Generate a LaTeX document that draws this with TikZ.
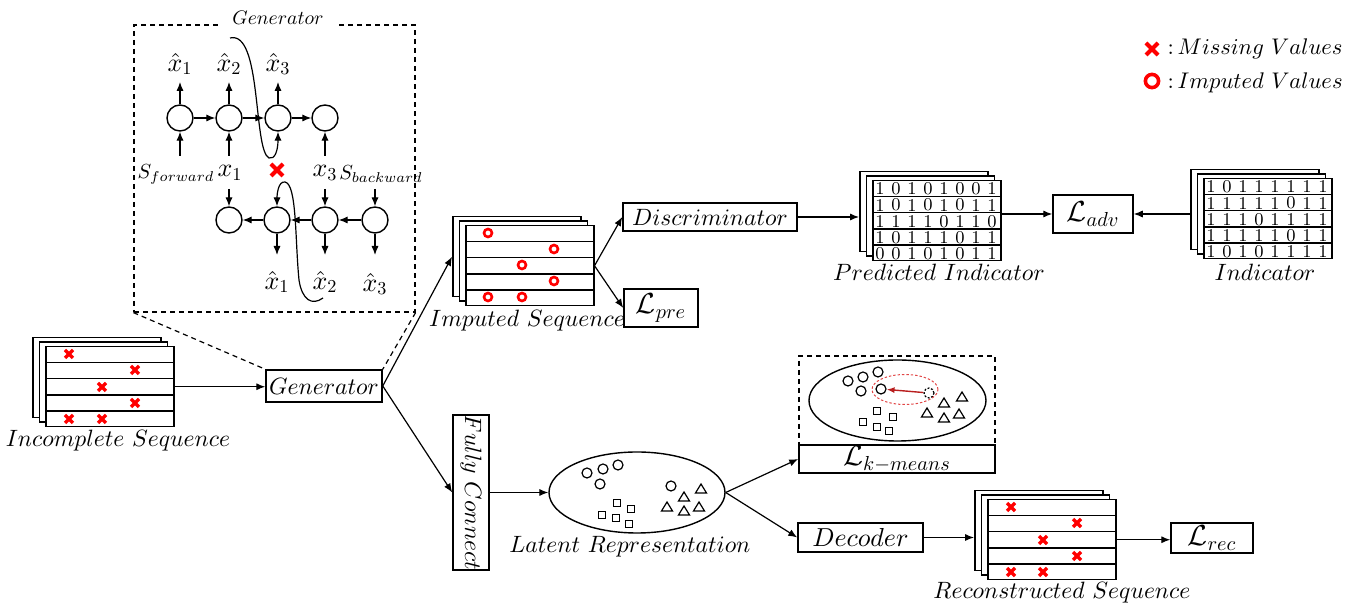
\documentclass[tikz,border=0pt]{standalone}
\usepackage{graphicx}
\DeclareFontShape{OML}{cmm}{m}{it}{<-7.5>cmmi7 <7.5->cmmi10}{}
\DeclareFontShape{OMS}{cmsy}{m}{n}{<-7.5>cmsy7 <7.5->cmsy10}{}
\DeclareFontShape{OT1}{cmr}{m}{n}{<-7.5>cmr7 <7.5->cmr10}{}
\DeclareFontShape{OMX}{cmex}{m}{n}{<->cmex10}{}
\usetikzlibrary{arrows.meta,shapes.geometric,calc}
\definecolor{kred}{RGB}{185,30,30}
\definecolor{lred}{RGB}{225,70,70}
\newcommand{\lf}{\fontsize{11.8}{14}\selectfont}
\newcommand{\Lf}{\fontsize{14.5}{16}\selectfont}
\newcommand{\seqstack}[3]{%
  \node[sheet] (#1-b) at ({#2-13},{#3-9}) {};
  \node[sheet] (#1-m) at ({#2-6.5},{#3-4.5}) {};
  \node[sheet] (#1) at (#2,#3) {};
  \foreach \k in {1,2,3,4} \draw[line width=0.75pt] ([yshift=-\k*8.15pt]#1.north west) -- ([yshift=-\k*8.15pt]#1.north east);
}
\begin{document}
\begin{tikzpicture}[x=0.5pt,y=-0.5pt,
  line width=0.6pt,
  arr/.style={-{Latex[length=4.5pt,width=3.6pt]}, line width=0.6pt},
  box/.style={draw, line width=0.75pt, fill=white, inner sep=0pt},
  sheet/.style={draw, line width=0.75pt, fill=white, minimum width=64pt, minimum height=40pt, inner sep=0pt, anchor=north west},
  lab/.style={font=\lf, inner sep=0.5pt},
  il/.style={font=\fontsize{13}{15}\selectfont, inner sep=0.5pt},
  sl/.style={font=\fontsize{10.2}{12}\selectfont, inner sep=0.5pt},
  rc/.style={circle, draw, line width=0.7pt, minimum size=13pt, inner sep=0pt},
  dig/.style={font=\fontsize{9}{10}\selectfont, inner sep=0pt},
  dsh/.style={dash pattern=on 2.5pt off 2pt, line width=0.6pt},
  mx/.pic={\draw[red, line width=1.7pt] (-4,-4) -- (4,4) (-4,4) -- (4,-4);},
  mxl/.pic={\draw[red, line width=2.1pt] (-6,-6) -- (6,6) (-6,6) -- (6,-6);},
  mo/.pic={\draw[red, line width=1.3pt] (0,0) circle[radius=2pt];},
  mol/.pic={\draw[red, line width=1.8pt] (0,0) circle[radius=3.3pt];},
  sc/.pic={\draw[line width=0.6pt] (0,0) circle[radius=2.5pt];},
  sq/.pic={\draw[line width=0.6pt] (-3.5,-3.5) rectangle (3.5,3.5);},
  tri/.pic={\draw[line width=0.6pt] (-5.5,4) -- (5.5,4) -- (0,-5) -- cycle;},
]
\useasboundingbox (0,0) rectangle (1362,608);

% ---------- Legend ----------
\pic at (1152,49) {mxl};
\node[lab, anchor=west, font=\fontsize{11.3}{13}\selectfont] (lgm) at (1166,49) {${:}\,Missing\ Values$};
\pic at (1152,81) {mol};
\node[lab, anchor=west, font=\fontsize{11.3}{13}\selectfont] (lgi) at (1166,83) {${:}\,Imputed\ Values$};

% ---------- Generator inset ----------
\node[draw, dsh, minimum width=140.5pt, minimum height=143.5pt, inner sep=0pt] (inset) at (274.5,168.5) {};
\node[fill=white, minimum width=60pt, inner sep=1pt, font=\fontsize{9.8}{11}\selectfont] (ititle) at (278,18) {$Generator$};

\node[rc] (t1) at (180,118) {};
\node[rc] (t2) at (229,118) {};
\node[rc] (t3) at (278,118) {};
\node[rc] (t4) at (325,118) {};
\node[rc] (b1) at (229,220) {};
\node[rc] (b2) at (277,220) {};
\node[rc] (b3) at (325,220) {};
\node[rc] (b4) at (375,220) {};

\draw[arr] (t1) -- (t2);
\draw[arr] (t2) -- (t3);
\draw[arr] (t3) -- (t4);
\draw[arr] (b4) -- (b3);
\draw[arr] (b3) -- (b2);
\draw[arr] (b2) -- (b1);

\coordinate (tu1) at (180,82);
\coordinate (tu2) at (229,82);
\coordinate (tu3) at (278,82);
\draw[arr] (t1.north) -- (tu1);
\draw[arr] (t2.north) -- (tu2);
\draw[arr] (t3.north) -- (tu3);
\node[il] (th1) at (180,64) {$\hat{x}_1$};
\node[il] (th2) at (229,64) {$\hat{x}_2$};
\node[il] (th3) at (278,64) {$\hat{x}_3$};

\coordinate (ti1) at (180,156);
\coordinate (ti2) at (229,156);
\coordinate (ti4) at (325,156);
\draw[arr] (ti1) -- (t1.south);
\draw[arr] (ti2) -- (t2.south);
\draw[arr] (ti4) -- (t4.south);

\node[sl] (sfw) at (176,174) {$S_{forward}$};
\node[il] (xx1) at (230,173) {$x_1$};
\pic at (277,170) {mxl};
\node[il] (xx3) at (325,173) {$x_3$};
\node[sl] (sbw) at (381,174) {$S_{backward}$};

\coordinate (bi1) at (229,189);
\coordinate (bi3) at (325,189);
\coordinate (bi4) at (375,189);
\draw[arr] (bi1) -- (b1.north);
\draw[arr] (bi3) -- (b3.north);
\draw[arr] (bi4) -- (b4.north);

\coordinate (bo2) at (277,255);
\coordinate (bo3) at (325,255);
\coordinate (bo4) at (375,255);
\draw[arr] (b2.south) -- (bo2);
\draw[arr] (b3.south) -- (bo3);
\draw[arr] (b4.south) -- (bo4);
\node[il] (bh1) at (277,282) {$\hat{x}_1$};
\node[il] (bh2) at (325,282) {$\hat{x}_2$};
\node[il] (bh3) at (375,284) {$\hat{x}_3$};

\coordinate (cs1) at (230,38);
\draw[arr] (cs1) .. controls (262,30) and (253,150) .. (269,158) .. controls (275,160) and (278,150) .. (t3.south);
\coordinate (cs2) at (323,298);
\draw[arr] (cs2) .. controls (312,306) and (302,300) .. (299,280) .. controls (295,240) and (297,184) .. (285,182) .. controls (278,181) and (277,195) .. (b2.north);

% ---------- Incomplete sequence ----------
\seqstack{inc}{45}{346}
\pic at (69,354) {mx};
\pic at (135,370) {mx};
\pic at (102,387) {mx};
\pic at (135,403) {mx};
\pic at (69,419) {mx};
\pic at (102,419) {mx};
\node[lab] (cinc) at (118,441) {$Incomplete\ Sequence$};

% ---------- Generator ----------
\node[box, minimum width=58pt, minimum height=16pt, font=\lf] (gen) at (324,386) {$Generator$};
\draw[dsh] (inset.south west) -- (gen.north west);
\draw[dsh] (inset.south east) -- (gen.north east);
\draw[arr] (inc.east) -- (inc.east -| gen.west);

% ---------- Imputed sequence ----------
\seqstack{imp}{465}{225}
\pic at (488,233) {mo};
\pic at (554,249) {mo};
\pic at (522,265) {mo};
\pic at (554,281) {mo};
\pic at (488,297) {mo};
\pic at (522,297) {mo};
\node[lab] (cimp) at (527,321) {$Imputed\ Sequence$};
\draw[arr] (gen.east) -- (imp-b.west);

\node[box, minimum width=87pt, minimum height=14pt, font=\lf] (disc) at (710,217) {$Discriminator$};
\node[box, minimum width=37pt, minimum height=19pt, font=\Lf] (lpre) at (661,308) {$\mathcal{L}_{pre}$};
\draw[arr] (imp.east) -- (disc.west);
\draw[arr] (imp.east) -- (lpre.west);

% ---------- Predicted indicator ----------
\seqstack{pi}{872}{180}
\foreach \row [count=\r] in {{1,0,1,0,1,0,0,1},{1,0,1,0,1,0,1,1},{1,1,1,1,0,1,1,0},{1,0,1,1,1,0,1,1},{0,0,1,0,1,0,1,1}}{
  \foreach \d [count=\c] in \row {
    \node[dig] (pi-\r-\c) at ($(pi.north west)+({8+16*(\c-1)},{8.8+16.3*(\r-1)})$) {\d};
  }
}
\node[lab] (cpi) at (939,272) {$Predicted\ Indicator$};
\draw[arr] (disc.east) -- (disc.east -| pi-b.west);

\node[box, minimum width=40pt, minimum height=19pt, font=\Lf] (ladv) at (1093,214) {$\mathcal{L}_{adv}$};
\draw[arr] (ladv.west -| pi.east) -- (ladv.west);

% ---------- Indicator ----------
\seqstack{ind}{1203}{178}
\foreach \row [count=\r] in {{1,0,1,1,1,1,1,1},{1,1,1,1,1,0,1,1},{1,1,1,0,1,1,1,1},{1,1,1,1,1,0,1,1},{1,0,1,0,1,1,1,1}}{
  \foreach \d [count=\c] in \row {
    \node[dig] (ind-\r-\c) at ($(ind.north west)+({8+16*(\c-1)},{8.8+16.3*(\r-1)})$) {\d};
  }
}
\node[lab] (cind) at (1265,272) {$Indicator$};
\draw[arr] (ladv.east -| ind-b.west) -- (ladv.east);

% ---------- Fully connect & latent ----------
\node[box, minimum width=18pt, minimum height=77.5pt, font=\lf] (fc) at (471,492.5) {\rotatebox{-90}{$Fully\ Connect$}};
\draw[arr] (gen.east) -- (fc.west);

\node[draw, ellipse, line width=0.7pt, minimum width=88pt, minimum height=40.5pt, inner sep=0pt] (lat) at (637,492.5) {};
\draw[arr] (fc.east) -- (lat.west);
\pic at (587,473) {sc};
\pic at (603,469) {sc};
\pic at (618,465) {sc};
\pic at (600,484) {sc};
\pic at (671,486) {sc};
\pic at (617,503) {sq};
\pic at (631,509) {sq};
\pic at (602,515) {sq};
\pic at (616,518) {sq};
\pic at (629,524) {sq};
\pic at (701,489) {tri};
\pic at (684,497) {tri};
\pic at (667,507) {tri};
\pic at (684,511) {tri};
\pic at (699,507) {tri};
\node[lab] (clat) at (630,547) {$Latent\ Representation$};

% ---------- k-means ----------
\node[draw, dsh, minimum width=98pt, minimum height=44.5pt, inner sep=0pt] (kbox) at (897,400.5) {};
\node[box, minimum width=98pt, minimum height=14pt, font=\Lf] (lk) at (897,459) {\raisebox{-3pt}{$\mathcal{L}_{k-means}$}};
\node[draw, ellipse, line width=0.7pt, minimum width=88.5pt, minimum height=40.5pt, inner sep=0pt] (kell) at (897.5,400.5) {};
\pic at (848,381) {sc};
\pic at (863,377) {sc};
\pic at (878,372) {sc};
\pic at (861,391) {sc};
\node[circle, draw, line width=0.6pt, minimum size=5pt, inner sep=0pt] (tc) at (881,389) {};
\node[circle, draw, dash pattern=on 1pt off 0.8pt, line width=0.6pt, minimum size=5pt, inner sep=0pt] (dc) at (929,393) {};
\node[ellipse, draw=lred, dash pattern=on 1.2pt off 1pt, line width=0.5pt, minimum width=33pt, minimum height=15pt, inner sep=0pt] (rell) at (905,389.5) {};
\draw[-{Latex[length=4pt,width=3pt]}, kred, line width=0.7pt] (dc) -- (tc);
\pic at (877,411) {sq};
\pic at (893,417) {sq};
\pic at (863,422) {sq};
\pic at (877,427) {sq};
\pic at (889,431) {sq};
\pic at (962,397) {tri};
\pic at (944,403) {tri};
\pic at (927,413) {tri};
\pic at (944,418) {tri};
\pic at (959,414) {tri};
\draw[arr] (lat.east) -- (lk.west);

% ---------- Decoder & reconstruction ----------
\node[box, minimum width=62.5pt, minimum height=14.5pt, font=\fontsize{13}{15}\selectfont] (dec) at (860.5,537.5) {$Decoder$};
\draw[arr] (lat.east) -- (dec.west);
\seqstack{rec}{987}{499}
\pic at (1011,507) {mx};
\pic at (1077,523) {mx};
\pic at (1043,540) {mx};
\pic at (1077,556) {mx};
\pic at (1011,572) {mx};
\pic at (1043,572) {mx};
\node[lab] (crec) at (1062,593) {$Reconstructed\ Sequence$};
\draw[arr] (dec.east) -- (dec.east -| rec-b.west);
\node[box, minimum width=41pt, minimum height=15pt, font=\Lf] (lrec) at (1212,538) {$\mathcal{L}_{rec}$};
\draw[arr] (rec.east) -- (rec.east -| lrec.west);
\end{tikzpicture}
\end{document}
